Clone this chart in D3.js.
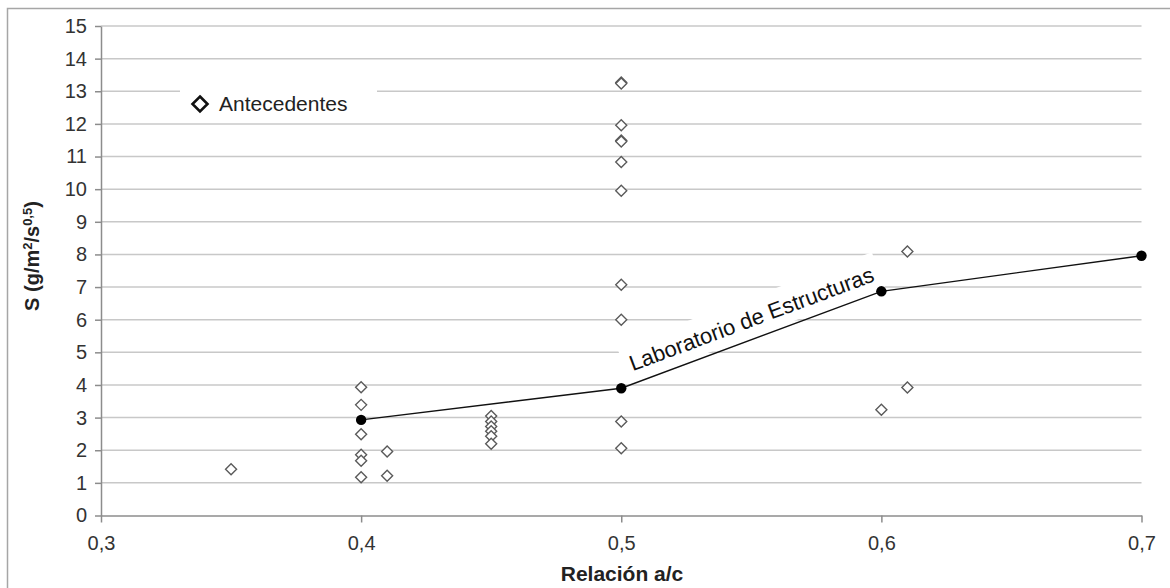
<!DOCTYPE html>
<html>
<head>
<meta charset="utf-8">
<script src="https://cdn.jsdelivr.net/npm/d3@7"></script>
<style>
  body { margin: 0; background: #fff; }
  text { font-family: "Liberation Sans", Arial, sans-serif; }
</style>
</head>
<body>
<div id="chart"></div>
<script>
// Antecedentes (scatter, open diamonds)
var antecedentesX = [0.35,
  0.40, 0.40, 0.40, 0.40, 0.40, 0.40,
  0.41, 0.41,
  0.45, 0.45, 0.45, 0.45, 0.45, 0.45,
  0.50, 0.50, 0.50, 0.50, 0.50, 0.50, 0.50, 0.50, 0.50, 0.50, 0.50,
  0.60, 0.61, 0.61];
var antecedentesY = [1.42,
  3.93, 3.39, 2.49, 1.86, 1.68, 1.17,
  1.96, 1.22,
  3.05, 2.88, 2.73, 2.58, 2.43, 2.20,
  13.27, 13.24, 11.96, 11.49, 11.46, 10.83, 9.95, 7.07, 6.00, 2.88, 2.06,
  3.24, 8.09, 3.92];

// Laboratorio de Estructuras (line with filled dots)
var labX = [0.4, 0.5, 0.6, 0.7];
var labY = [2.93, 3.90, 6.87, 7.96];

var xTicks = [0.3, 0.4, 0.5, 0.6, 0.7];
var yTicks = d3.range(0, 16);

var width = 1170, height = 588;
var svg = d3.select("#chart").append("svg")
  .attr("width", width)
  .attr("height", height);

var x = d3.scaleLinear().domain([0.3, 0.7]).range([101, 1141.5]);
var y = d3.scaleLinear().domain([0, 15]).range([515.5, 26]);

var locale = d3.formatLocale({decimal: ",", thousands: ".", grouping: [3], currency: ["", "€"]});
var fmtX = locale.format(".1f");

// outer frame
svg.append("rect")
  .attr("x", 7.5).attr("y", 8.5)
  .attr("width", width + 10).attr("height", height + 10)
  .attr("fill", "none").attr("stroke", "#a6a6a6").attr("stroke-width", 1.5);

// gridlines
svg.append("g").selectAll("line")
  .data(yTicks.filter(function(d) { return d > 0; }))
  .enter().append("line")
    .attr("x1", x(0.3)).attr("x2", x(0.7))
    .attr("y1", function(d) { return y(d); })
    .attr("y2", function(d) { return y(d); })
    .attr("stroke", "#c8c8c8").attr("stroke-width", 1.5);

// y axis
var yAxis = svg.append("g")
  .attr("transform", "translate(" + x(0.3) + ",0)")
  .call(d3.axisLeft(y).tickValues(yTicks).tickSize(6).tickPadding(8).tickSizeOuter(0));
yAxis.select(".domain").attr("stroke", "#8c8c8c").attr("stroke-width", 1.5);
yAxis.selectAll(".tick line").attr("stroke", "#8c8c8c").attr("stroke-width", 1.5);
yAxis.selectAll(".tick text").attr("font-size", "20px").attr("fill", "#333")
  .attr("font-family", "Liberation Sans, Arial, sans-serif");

// x axis
var xAxis = svg.append("g")
  .attr("transform", "translate(0," + y(0) + ")")
  .call(d3.axisBottom(x).tickValues(xTicks).tickFormat(fmtX).tickSize(7).tickPadding(13).tickSizeOuter(0));
xAxis.select(".domain").attr("stroke", "#8c8c8c").attr("stroke-width", 1.5);
xAxis.selectAll(".tick line").attr("stroke", "#8c8c8c").attr("stroke-width", 1.5);
xAxis.selectAll(".tick text").attr("font-size", "20px").attr("fill", "#333")
  .attr("font-family", "Liberation Sans, Arial, sans-serif");

// axis titles
svg.append("text")
  .attr("transform", "translate(39,256) rotate(-90)")
  .attr("text-anchor", "middle")
  .attr("font-size", "20px").attr("font-weight", "bold").attr("fill", "#222")
  .html('S (g/m<tspan baseline-shift="super" font-size="13px">2</tspan>/s<tspan baseline-shift="super" font-size="13px">0,5</tspan>)');

svg.append("text")
  .attr("x", 622).attr("y", 581)
  .attr("text-anchor", "middle")
  .attr("font-size", "21px").attr("font-weight", "bold").attr("fill", "#222")
  .text("Relación a/c");

// label background for the line series
var p0 = [x(labX[1]), y(labY[1])], p1 = [x(labX[2]), y(labY[2])];
var angle = Math.atan2(p1[1] - p0[1], p1[0] - p0[0]) * 180 / Math.PI;
var mid = [(p0[0] + p1[0]) / 2 + 7, (p0[1] + p1[1]) / 2 - 2.5];
var labG = svg.append("g")
  .attr("transform", "translate(" + mid[0] + "," + mid[1] + ") rotate(" + angle + ")");
labG.append("rect")
  .attr("x", -136).attr("y", -40).attr("width", 272).attr("height", 37)
  .attr("fill", "#fff");

// legend background
svg.append("rect")
  .attr("x", 180).attr("y", 86).attr("width", 197).attr("height", 35)
  .attr("fill", "#fff");

// diamond path
var diamond = function(s) {
  return "M0," + (-s) + "L" + s + ",0L0," + s + "L" + (-s) + ",0Z";
};

// scatter
svg.append("g").selectAll("path")
  .data(antecedentesX.map(function(d, i) { return [d, antecedentesY[i]]; }))
  .enter().append("path")
    .attr("d", diamond(5.5))
    .attr("transform", function(d) { return "translate(" + x(d[0]) + "," + y(d[1]) + ")"; })
    .attr("fill", "#fff").attr("stroke", "#5a5a5a").attr("stroke-width", 1.4);

// line series
var labData = labX.map(function(d, i) { return [d, labY[i]]; });
svg.append("path")
  .datum(labData)
  .attr("d", d3.line().x(function(d) { return x(d[0]); }).y(function(d) { return y(d[1]); }))
  .attr("fill", "none").attr("stroke", "#111").attr("stroke-width", 1.4);
svg.append("g").selectAll("circle")
  .data(labData)
  .enter().append("circle")
    .attr("cx", function(d) { return x(d[0]); })
    .attr("cy", function(d) { return y(d[1]); })
    .attr("r", 5.2)
    .attr("fill", "#000");

labG.append("text")
  .attr("x", 0).attr("y", -12)
  .attr("text-anchor", "middle")
  .attr("font-size", "22px").attr("fill", "#111")
  .text("Laboratorio de Estructuras");

// legend
svg.append("path")
  .attr("d", diamond(7.5))
  .attr("transform", "translate(200,104)")
  .attr("fill", "#fff").attr("stroke", "#111").attr("stroke-width", 2.6);
svg.append("text")
  .attr("x", 219).attr("y", 111)
  .attr("font-size", "21px").attr("fill", "#222")
  .text("Antecedentes");
</script>
</body>
</html>
